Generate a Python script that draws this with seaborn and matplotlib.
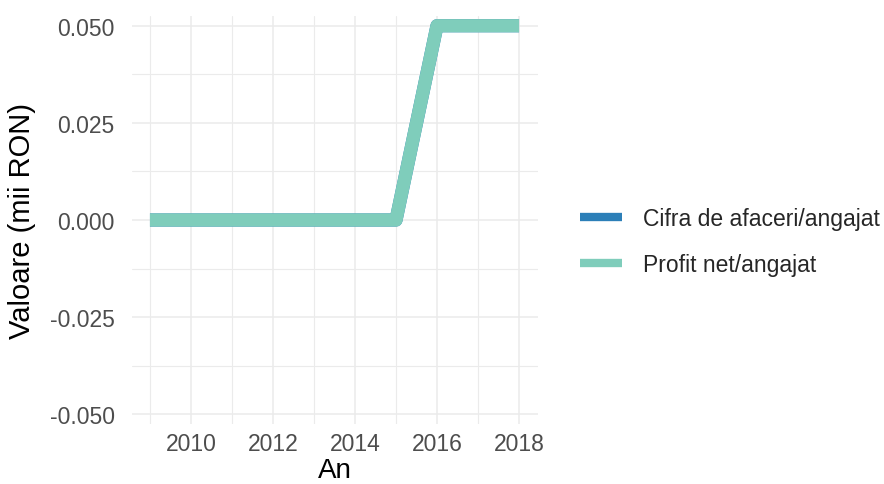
import matplotlib
matplotlib.use("Agg")
import matplotlib.pyplot as plt
import seaborn as sns
import pandas as pd
from matplotlib.lines import Line2D

years = [2009, 2010, 2011, 2012, 2013, 2014, 2015, 2016, 2017, 2018]
cifra_afaceri = [0, 0, 0, 0, 0, 0, 0, 0.05, 0.05, 0.05]
profit_net = [0, 0, 0, 0, 0, 0, 0, 0.05, 0.05, 0.05]
series_names = ["Cifra de afaceri/angajat", "Profit net/angajat"]
colors = ["#2c7fb8", "#7fcdbb"]
yticks = [-0.05, -0.025, 0.0, 0.025, 0.05]
ytick_labels = ["-0.050", "-0.025", "0.000", "0.025", "0.050"]
xticks = [2010, 2012, 2014, 2016, 2018]

df = pd.DataFrame({
    "An": years * 2,
    "Valoare": cifra_afaceri + profit_net,
    "Serie": [series_names[0]] * len(years) + [series_names[1]] * len(years),
})

sns.set_theme(style="white")
plt.rcParams["font.family"] = ["Liberation Sans", "DejaVu Sans"]

fig = plt.figure(figsize=(8.84, 4.85), dpi=100)
ax = fig.add_axes([131.5 / 884, 1 - 425 / 485, (537.5 - 131.5) / 884, (425 - 17) / 485])

sns.lineplot(data=df, x="An", y="Valoare", hue="Serie", palette=colors,
             hue_order=series_names, linewidth=9.5, ax=ax, legend=False,
             solid_capstyle="butt", solid_joinstyle="round")

ax.set_xlim(2008.55, 2018.45)
ax.set_ylim(-0.0525, 0.0525)
ax.set_xticks(xticks)
ax.set_xticklabels([str(x) for x in xticks])
ax.set_yticks(yticks)
ax.set_yticklabels(ytick_labels)
ax.set_xticks([2009, 2011, 2013, 2015, 2017], minor=True)
ax.set_yticks([-0.0375, -0.0125, 0.0125, 0.0375], minor=True)
ax.grid(True, which="major", color="#ebebeb", linewidth=1.1)
ax.grid(True, which="minor", color="#ebebeb", linewidth=0.8)
ax.set_axisbelow(True)
for s in ax.spines.values():
    s.set_visible(False)
ax.tick_params(axis="both", which="both", length=0, labelsize=16.5, labelcolor="#4d4d4d")
ax.tick_params(axis="y", pad=12)
ax.tick_params(axis="x", pad=6)
ax.set_xlabel("An", fontsize=20, color="black", labelpad=1)
ax.set_ylabel("Valoare (mii RON)", fontsize=21, color="black", labelpad=10)

handles = [Line2D([0], [0], color=c, linewidth=6, solid_capstyle="butt") for c in colors]
fig.legend(handles, series_names, loc="center left", bbox_to_anchor=(580 / 884, 1 - 242.5 / 485),
           frameon=False, fontsize=16.5, handlelength=1.83, handletextpad=0.92,
           labelspacing=1.0, borderpad=0, borderaxespad=0)

fig.savefig("out.png", dpi=100)
